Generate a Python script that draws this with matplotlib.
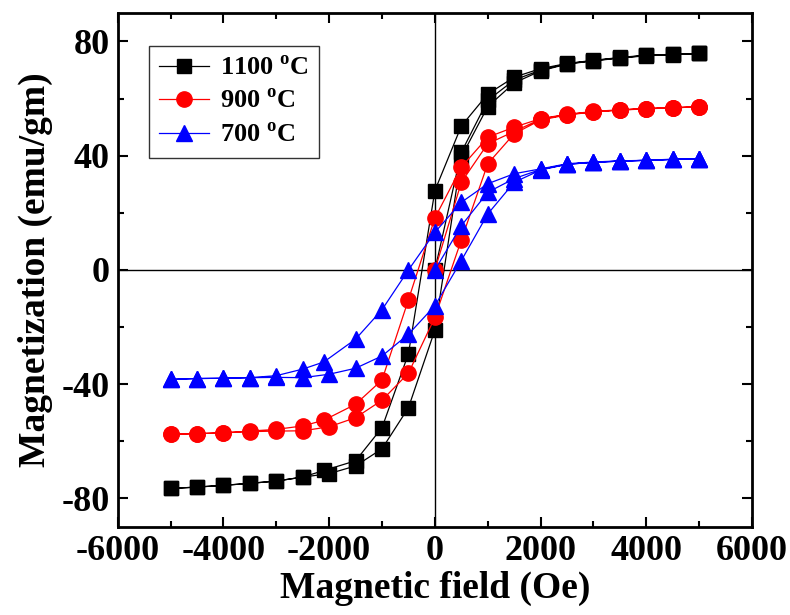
import matplotlib
matplotlib.use("Agg")
import matplotlib.pyplot as plt
from matplotlib.ticker import MultipleLocator

plt.rcParams['font.family'] = 'Liberation Serif'
plt.rcParams['font.weight'] = 'bold'
plt.rcParams['mathtext.fontset'] = 'custom'
plt.rcParams['mathtext.rm'] = 'Liberation Serif:bold'
plt.rcParams['mathtext.bf'] = 'Liberation Serif:bold'
plt.rcParams['axes.unicode_minus'] = False

############## Daten ##############
# Feldwerte: Neukurve (0 -> 5000), absteigend (5000 -> -5000), aufsteigend (-5000 -> 5000)
h_init = [0, 500, 1000, 1500, 2000, 2500, 3000, 3500, 4000, 4500, 5000]
h_down = [5000, 4500, 4000, 3500, 3000, 2500, 2000, 1500, 1000, 500, 0,
          -500, -1000, -1500, -2100, -2500, -3000, -3500, -4000, -4500, -5000]
h_up = [-5000, -4500, -4000, -3500, -3000, -2500, -2000, -1500, -1000, -500, 0,
        500, 1000, 1500, 2000, 2500, 3000, 3500, 4000, 4500, 5000]

# 1100 C
m1100_init = [0, 41.2, 59.4, 66.5, 70.0, 72.2, 73.3, 74.3, 75.1, 75.5, 75.8]
m1100_down = [75.8, 75.5, 75.2, 74.4, 73.4, 72.3, 70.5, 67.5, 61.6, 50.4, 27.8,
              -29.3, -55.2, -66.8, -70.2, -72.5, -73.9, -74.7, -75.4, -76.0, -76.5]
m1100_up = [-76.5, -76.0, -75.4, -74.7, -73.9, -72.5, -71.3, -68.6, -62.6, -48.2, -21.0,
            39.6, 57.2, 65.5, 69.7, 72.1, 73.2, 74.2, 75.0, 75.4, 75.8]

# 900 C
m900_init = [0, 30.7, 44.2, 48.5, 52.8, 54.4, 55.4, 56.0, 56.5, 56.8, 57.1]
m900_down = [57.1, 56.8, 56.5, 56.1, 55.5, 54.5, 53.0, 50.0, 46.5, 36.0, 18.2,
             -10.4, -38.5, -47.0, -52.6, -54.6, -55.8, -56.4, -57.0, -57.3, -57.5]
m900_up = [-57.5, -57.3, -57.0, -56.6, -56.4, -56.3, -54.9, -51.7, -45.6, -36.1, -16.6,
           10.5, 37.2, 47.7, 52.5, 54.3, 55.3, 56.0, 56.4, 56.8, 57.1]

# 700 C
m700_init = [0, 15.5, 27.2, 32.0, 35.2, 37.0, 37.7, 38.1, 38.4, 38.7, 38.9]
m700_down = [38.9, 38.8, 38.4, 38.2, 37.8, 37.2, 35.4, 33.7, 30.2, 23.7, 13.2,
             0.0, -13.9, -24.2, -32.2, -34.7, -37.0, -37.7, -37.9, -38.0, -38.3]
m700_up = [-38.3, -38.0, -37.9, -37.7, -37.6, -37.7, -36.5, -34.4, -30.1, -22.5, -12.5,
           3.3, 19.6, 30.7, 35.0, 37.0, 37.7, 38.1, 38.4, 38.7, 38.9]

labels = ['1100 $^{\\mathbf{o}}$C', '900 $^{\\mathbf{o}}$C', '700 $^{\\mathbf{o}}$C']
colors = ['black', 'red', 'blue']
markers = ['s', 'o', '^']
msizes = [10, 11, 11.5]
series = [(m1100_init, m1100_down, m1100_up),
          (m900_init, m900_down, m900_up),
          (m700_init, m700_down, m700_up)]

############## Zeichnen ##############
fig = plt.figure(figsize=(7.9, 6.15), dpi=100)
ax = fig.add_axes([0.149, 0.143, 0.803, 0.836])

ax.axhline(0, color='black', lw=1.0, zorder=1)
ax.axvline(0, color='black', lw=1.0, zorder=1)

h_all = h_init + h_down + h_up
for (mi, md, mu), lab, c, mk, ms in zip(series, labels, colors, markers, msizes):
    ax.plot(h_all, mi + md + mu, color=c, lw=0.9, marker=mk, markersize=ms,
            markeredgecolor=c, markerfacecolor=c, label=lab, zorder=3)

ax.set_xlim(-6000, 6000)
ax.set_ylim(-90, 90)
ax.xaxis.set_major_locator(MultipleLocator(2000))
ax.xaxis.set_minor_locator(MultipleLocator(1000))
ax.yaxis.set_major_locator(MultipleLocator(40))
ax.yaxis.set_minor_locator(MultipleLocator(20))
ax.tick_params(which='both', direction='in', top=True, right=True, width=1.5,
               labelsize=26, pad=6)
ax.tick_params(which='major', length=7)
ax.tick_params(which='minor', length=4)
for s in ax.spines.values():
    s.set_linewidth(2)

ax.set_xlabel('Magnetic field (Oe)', fontsize=27, fontweight='bold', labelpad=2)
ax.set_ylabel('Magnetization (emu/gm)', fontsize=27, fontweight='bold', labelpad=6)

# Legende
leg = ax.legend(loc='upper left', bbox_to_anchor=(0.028, 0.962), fontsize=19,
                frameon=True, fancybox=False, edgecolor='black', handlelength=1.9,
                borderpad=0.4, labelspacing=0.35, handletextpad=0.4)
leg.get_frame().set_linewidth(1.0)

plt.savefig("out.png", dpi=100)
